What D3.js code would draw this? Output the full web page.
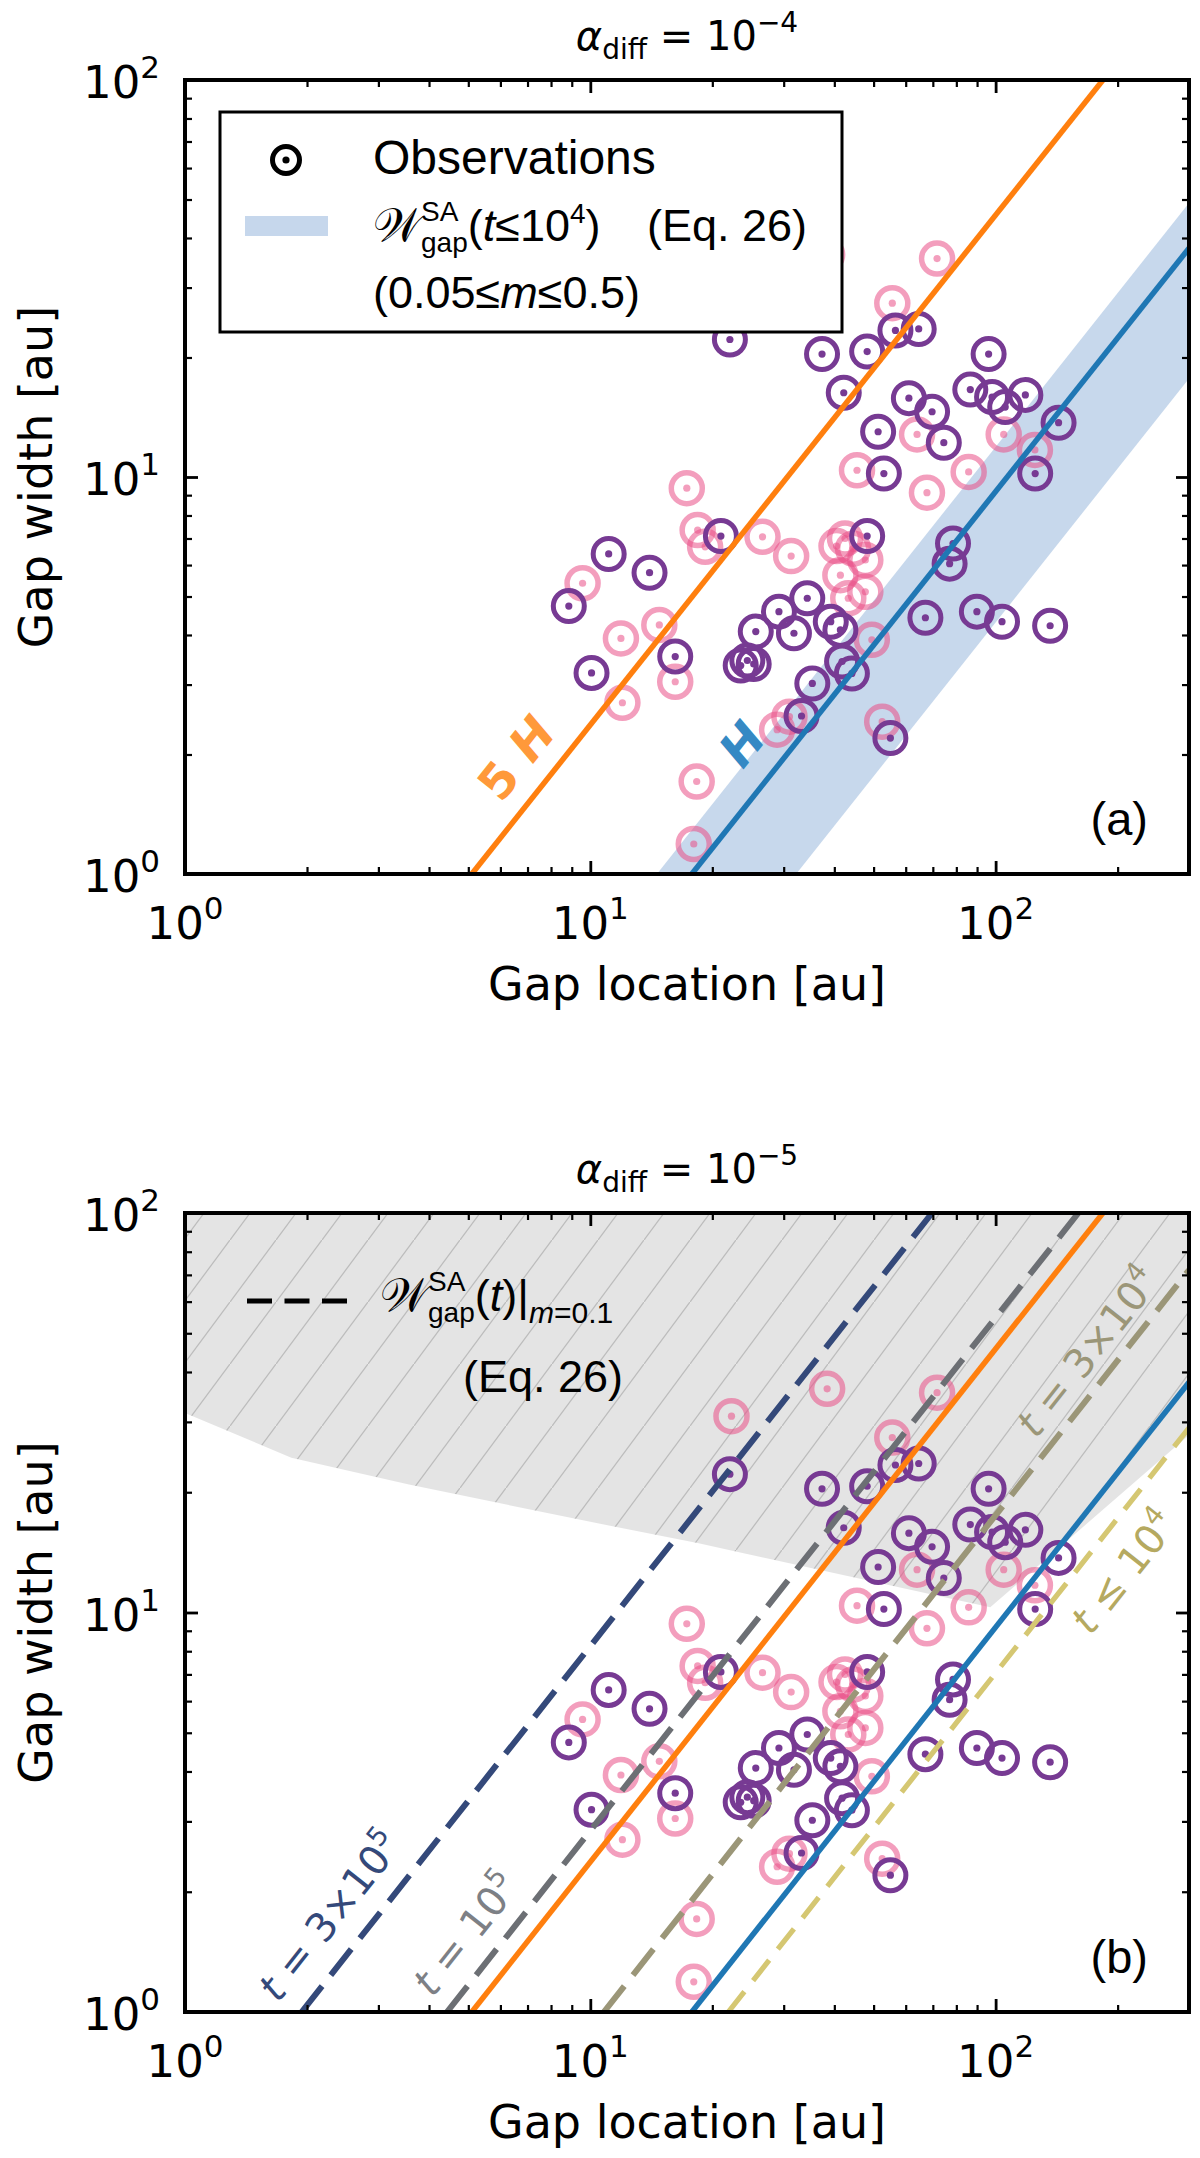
<!DOCTYPE html>
<html><head><meta charset="utf-8">
<script src="https://cdn.jsdelivr.net/npm/d3@7"></script>
<style>body{margin:0;background:#fff} svg{display:block} text{white-space:pre}</style>
</head><body>
<svg id="chart" width="1200" height="2158"></svg>
<script>
// ---------- data ----------
const purpleX = [22.1,37.3,48.2,56.6,64.6,96.1,42.2,61.1,69.7,86.6,98.0,105.6,118.4,51.3,74.5,53.0,125.2,143,21.0,48.2,11.1,14.0,8.85,10.07,16.2,25.6,29.2,34.3,31.8,39.2,41.4,23.5,24.4,25.3,41.8,44.2,35.3,33.2,67.1,89.9,103.7,136.3,55.0,78.5,77.0];
const purpleY = [22.2,20.4,20.7,23.4,23.6,20.4,16.3,15.8,14.6,16.6,15.9,15.0,16.1,13.0,12.2,10.2,10.2,13.7,7.1,7.1,6.4,5.74,4.73,3.21,3.53,4.08,4.58,4.95,4.04,4.32,4.12,3.35,3.45,3.38,3.43,3.20,3.02,2.50,4.42,4.58,4.32,4.22,2.20,6.8,6.05];
const pinkX = [38.4,71.7,22.3,55.6,17.3,45.5,67.7,85.8,64.0,104.7,125,18.4,26.6,31.3,19.2,40.5,42.5,44.5,47.7,41.4,47.7,43.3,9.57,11.9,14.8,12.0,16.2,18.3,18.0,28.9,31.0,49.5,52.5];
const pinkY = [36.3,35.5,31.0,27.4,9.37,10.4,9.13,10.3,12.8,12.8,11.7,7.35,7.07,6.32,6.67,6.7,7.0,6.6,6.18,5.66,5.14,4.95,5.40,3.92,4.24,2.70,3.05,1.71,1.19,2.31,2.49,3.89,2.42];

const hLineX = [17.8, 300], hLineY = [1, 37.7];          // H
const h5LineX = [5.1, 184], h5LineY = [1, 100];          // 5H
const bandUpperX = [14.6, 300], bandUpperY = [1, 49];
const bandLowerX = [32.2, 300], bandLowerY = [1, 17.7];
const t3e5X = [1.94, 69.7], t3e5Y = [1, 100];
const t1e5X = [4.43, 160], t1e5Y = [1, 100];
const t3e4X = [10.8, 300], t3e4Y = [1, 72];
const t1e4X = [21.9, 300], t1e4Y = [1, 29];
const hatchX = [1, 1, 1.83, 3.57, 10.5, 18.5, 97, 300, 300];
const hatchY = [100, 31.6, 24.4, 20.9, 16.7, 14.9, 10.3, 27.8, 100];

const majorX = [1, 10, 100];
const majorY = [1, 10, 100];
const majorExp = ['0', '1', '2'];
const minorX = [2,3,4,5,6,7,8,9,20,30,40,50,60,70,80,90,200];
const minorY = [2,3,4,5,6,7,8,9,20,30,40,50,60,70,80,90];

// ---------- setup ----------
const svg = d3.select('#chart');
const L = 185, R = 1189;
const x = d3.scaleLog().domain([1, 300]).range([L, R]);
const panels = [
  {id: 'a', top: 80, bottom: 874},
  {id: 'b', top: 1213, bottom: 2012}
];
panels.forEach(p => p.y = d3.scaleLog().domain([1, 100]).range([p.bottom, p.top]));

const defs = svg.append('defs');
panels.forEach(p => {
  defs.append('clipPath').attr('id', 'clip' + p.id)
    .append('rect').attr('x', L).attr('y', p.top).attr('width', R - L).attr('height', p.bottom - p.top);
});
const pat = defs.append('pattern').attr('id', 'hatch').attr('patternUnits', 'userSpaceOnUse')
  .attr('width', 46).attr('height', 62);
pat.append('rect').attr('width', 46).attr('height', 62).attr('fill', '#e4e4e4');
pat.append('line').attr('x1', -2).attr('y1', 64.7).attr('x2', 48).attr('y2', -2.7)
  .attr('stroke', '#bcbcbc').attr('stroke-width', 1.3);

function rich(parent, px, py, pieces, o = {}) {
  const g = parent.append('g').attr('transform', `translate(${px},${py})` + (o.rotate ? ` rotate(${o.rotate})` : ''));
  const inner = g.append('g');
  let cx = 0, lastStart = 0;
  const base = o.size || 40;
  pieces.forEach(pc => {
    const sx = pc.stack ? lastStart : cx;
    const t = inner.append('text').attr('x', sx).attr('y', pc.dy || 0)
      .attr('font-family', pc.family || o.family || 'DejaVu Sans')
      .attr('font-size', pc.size || base)
      .attr('font-style', pc.italic ? 'italic' : 'normal')
      .attr('font-weight', pc.weight || o.weight || 'normal')
      .attr('fill', pc.color || o.color || '#000')
      .text(pc.t);
    const w = t.node().getComputedTextLength();
    if (pc.stack) cx = Math.max(cx, sx + w); else { lastStart = sx; cx = sx + w; }
  });
  let off = 0;
  if (o.anchor === 'middle') off = -cx / 2; else if (o.anchor === 'end') off = -cx;
  inner.attr('transform', `translate(${off},${o.vshift || 0})`);
  return g;
}

function lineGen(y) {
  return d3.line().x(d => x(d[0])).y(d => y(d[1]));
}
function pts(xs, ys) { return xs.map((v, i) => [v, ys[i]]); }

function drawPoints(g, y) {
  const pink = g.append('g');
  pts(pinkX, pinkY).forEach(d => {
    pink.append('circle').attr('cx', x(d[0])).attr('cy', y(d[1])).attr('r', 15.5)
      .attr('fill', 'none').attr('stroke', '#e94f86').attr('stroke-width', 5.5).attr('stroke-opacity', 0.55);
    pink.append('circle').attr('cx', x(d[0])).attr('cy', y(d[1])).attr('r', 3.6)
      .attr('fill', '#e94f86').attr('fill-opacity', 0.55);
  });
  const pur = g.append('g');
  pts(purpleX, purpleY).forEach(d => {
    pur.append('circle').attr('cx', x(d[0])).attr('cy', y(d[1])).attr('r', 15.5)
      .attr('fill', 'none').attr('stroke', '#773a93').attr('stroke-width', 5);
    pur.append('circle').attr('cx', x(d[0])).attr('cy', y(d[1])).attr('r', 3.6)
      .attr('fill', '#773a93');
  });
}

function drawFrame(p) {
  const g = svg.append('g');
  const y = p.y;
  const add = (axis, tr, vals, size, sw) => {
    g.append('g').attr('transform', tr)
      .call(axis.tickValues(vals).tickSize(size).tickFormat(''))
      .call(s => s.select('.domain').remove())
      .selectAll('line').attr('stroke', '#000').attr('stroke-width', sw);
  };
  add(d3.axisBottom(x), `translate(0,${p.bottom})`, majorX, -13, 2.8);
  add(d3.axisBottom(x), `translate(0,${p.bottom})`, minorX, -7, 2.2);
  add(d3.axisTop(x), `translate(0,${p.top})`, majorX, -13, 2.8);
  add(d3.axisTop(x), `translate(0,${p.top})`, minorX, -7, 2.2);
  add(d3.axisLeft(y), `translate(${L},0)`, majorY, -13, 2.8);
  add(d3.axisLeft(y), `translate(${L},0)`, minorY, -7, 2.2);
  add(d3.axisRight(y), `translate(${R},0)`, majorY, -13, 2.8);
  add(d3.axisRight(y), `translate(${R},0)`, minorY, -7, 2.2);
  g.append('rect').attr('x', L).attr('y', p.top).attr('width', R - L).attr('height', p.bottom - p.top)
    .attr('fill', 'none').attr('stroke', '#000').attr('stroke-width', 4);
  majorX.forEach((v, i) => {
    rich(svg, x(v), p.bottom + 65, [{t: '10', size: 45}, {t: majorExp[i], size: 31, dy: -20}], {anchor: 'middle'});
  });
  majorY.forEach((v, i) => {
    rich(svg, 160, y(v) + 18, [{t: '10', size: 45}, {t: majorExp[i], size: 31, dy: -20}], {anchor: 'end'});
  });
  svg.append('text').attr('x', (L + R) / 2).attr('y', p.bottom + 126).attr('text-anchor', 'middle')
    .attr('font-family', 'DejaVu Sans').attr('font-size', 46).text('Gap location [au]');
  svg.append('text').attr('transform', `translate(52,${(p.top + p.bottom) / 2}) rotate(-90)`).attr('text-anchor', 'middle')
    .attr('font-family', 'DejaVu Sans').attr('font-size', 46).text('Gap width [au]');
  svg.append('text').attr('x', 1148).attr('y', p.bottom - 39).attr('text-anchor', 'end')
    .attr('font-family', 'Liberation Sans').attr('font-size', 47).text('(' + p.id + ')');
}

// ---------- panel a ----------
(function () {
  const p = panels[0], y = p.y;
  const g = svg.append('g').attr('clip-path', 'url(#clipa)');
  const band = pts(bandUpperX, bandUpperY).concat(pts(bandLowerX, bandLowerY).reverse());
  g.append('path').attr('d', d3.line().x(d => x(d[0])).y(d => y(d[1]))(band) + 'Z')
    .attr('fill', '#8fb1da').attr('fill-opacity', 0.5);
  drawPoints(g, y);
  g.append('path').attr('d', lineGen(y)(pts(h5LineX, h5LineY))).attr('stroke', '#ff7f0e').attr('stroke-width', 5.5).attr('fill', 'none');
  g.append('path').attr('d', lineGen(y)(pts(hLineX, hLineY))).attr('stroke', '#1f77b4').attr('stroke-width', 5.5).attr('fill', 'none');
  rich(svg, 516, 758, [{t: '5 ', weight: 'bold'}, {t: 'H', weight: 'bold', italic: true}],
    {anchor: 'middle', rotate: -51.5, size: 48, color: '#ff993a', vshift: 17});
  rich(svg, 742, 744, [{t: 'H', weight: 'bold', italic: true}],
    {anchor: 'middle', rotate: -51.5, size: 48, color: '#3589c4', vshift: 17});
  rich(svg, (L + R) / 2, 50, [{t: 'α', italic: true}, {t: 'diff', size: 28, dy: 9}, {t: ' = 10'}, {t: '−4', size: 28, dy: -18}],
    {anchor: 'middle', size: 40});
  const lg = svg.append('g');
  lg.append('rect').attr('x', 220).attr('y', 112).attr('width', 622).attr('height', 220)
    .attr('fill', '#fff').attr('stroke', '#000').attr('stroke-width', 3);
  lg.append('circle').attr('cx', 286).attr('cy', 160).attr('r', 13.5).attr('fill', 'none').attr('stroke', '#000').attr('stroke-width', 5);
  lg.append('circle').attr('cx', 286).attr('cy', 160).attr('r', 3.6).attr('fill', '#000');
  lg.append('text').attr('x', 373).attr('y', 174).attr('font-family', 'Liberation Sans').attr('font-size', 48).text('Observations');
  lg.append('rect').attr('x', 245).attr('y', 216).attr('width', 83).attr('height', 20).attr('fill', '#c6d7ec');
  rich(lg, 373, 241, [
    {t: '𝒲', family: 'DejaVu Sans', size: 46},
    {t: 'SA', size: 28, dy: -20},
    {t: 'gap', size: 28, dy: 11, stack: true},
    {t: '('}, {t: 't', italic: true}, {t: '≤10'}, {t: '4', size: 28, dy: -18}, {t: ')'}
  ], {family: 'Liberation Sans', size: 45});
  lg.append('text').attr('x', 647).attr('y', 241).attr('font-family', 'Liberation Sans').attr('font-size', 45).text('(Eq. 26)');
  rich(lg, 373, 308, [{t: '(0.05≤'}, {t: 'm', italic: true}, {t: '≤0.5)'}], {family: 'Liberation Sans', size: 45});
  drawFrame(p);
})();

// ---------- panel b ----------
(function () {
  const p = panels[1], y = p.y;
  const g = svg.append('g').attr('clip-path', 'url(#clipb)');
  g.append('path').attr('d', d3.line().x(d => x(d[0])).y(d => y(d[1]))(pts(hatchX, hatchY)) + 'Z')
    .attr('fill', 'url(#hatch)');
  drawPoints(g, y);
  const dl = (xs, ys, col, dash, w) => g.append('path').attr('d', lineGen(y)(pts(xs, ys)))
    .attr('stroke', col).attr('stroke-width', w).attr('fill', 'none').attr('stroke-dasharray', dash);
  dl(t3e5X, t3e5Y, '#34497a', '33,14', 6);
  dl(t1e5X, t1e5Y, '#6c6f74', '33,14', 6);
  dl(t3e4X, t3e4Y, '#9b9678', '33,14', 6);
  dl(t1e4X, t1e4Y, '#d5c772', '26,14', 5.2);
  dl(h5LineX, h5LineY, '#ff7f0e', null, 5.5);
  dl(hLineX, hLineY, '#1f77b4', null, 5.5);
  const lab = (cx, cy, pieces, col) => rich(svg, cx, cy, pieces, {anchor: 'middle', rotate: -51.6, size: 40, color: col, vshift: 14});
  lab(330, 1916, [{t: 't', italic: true}, {t: ' = 3×10'}, {t: '5', size: 27, dy: -17}], '#34497a');
  lab(466, 1934, [{t: 't', italic: true}, {t: ' = 10'}, {t: '5', size: 27, dy: -17}], '#7d8085');
  lab(1088, 1352, [{t: 't', italic: true}, {t: ' = 3×10'}, {t: '4', size: 27, dy: -17}], '#9b9678');
  lab(1124, 1572, [{t: 't', italic: true}, {t: ' ≤ 10'}, {t: '4', size: 27, dy: -17}], '#b5a960');
  rich(svg, (L + R) / 2, 1183, [{t: 'α', italic: true}, {t: 'diff', size: 28, dy: 9}, {t: ' = 10'}, {t: '−5', size: 28, dy: -18}],
    {anchor: 'middle', size: 40});
  svg.append('line').attr('x1', 247).attr('x2', 347).attr('y1', 1301).attr('y2', 1301)
    .attr('stroke', '#000').attr('stroke-width', 5).attr('stroke-dasharray', '25,12.5');
  rich(svg, 380, 1311, [
    {t: '𝒲', family: 'DejaVu Sans', size: 46},
    {t: 'SA', size: 28, dy: -20},
    {t: 'gap', size: 28, dy: 11, stack: true},
    {t: '('}, {t: 't', italic: true}, {t: ')|'},
    {t: 'm', italic: true, size: 30, dy: 12}, {t: '=0.1', size: 30, dy: 12}
  ], {family: 'Liberation Sans', size: 45});
  svg.append('text').attr('x', 463).attr('y', 1392).attr('font-family', 'Liberation Sans').attr('font-size', 45).text('(Eq. 26)');
  drawFrame(p);
})();
</script>
</body></html>
